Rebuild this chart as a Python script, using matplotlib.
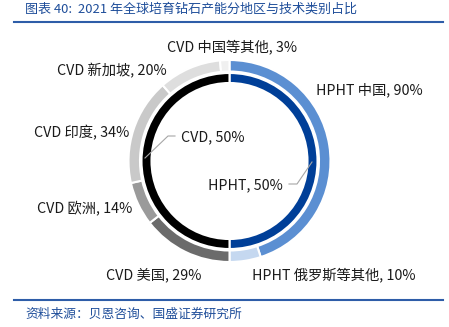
import matplotlib
matplotlib.use('Agg')
import matplotlib.pyplot as plt

plt.rcParams['font.family'] = ['Noto Sans CJK SC', 'DejaVu Sans']

# data
inner_labels = ['HPHT', 'CVD']
inner_values = [50, 50]
outer_labels = ['HPHT 中国', 'HPHT 俄罗斯等其他', 'CVD 美国', 'CVD 欧洲',
                'CVD 印度', 'CVD 新加坡', 'CVD 中国等其他']
outer_group = [0, 0, 1, 1, 1, 1, 1]
outer_pcts = [90, 10, 29, 14, 34, 20, 3]

inner_colors = ['#003f98', '#000000']
outer_colors = ['#5b8fd2', '#c5d8f0', '#6b6b6b', '#9a9a9a', '#c9c9c9', '#dedede', '#f0f0f0']

W, H = 449, 327
fig = plt.figure(figsize=(W / 100, H / 100), dpi=100)
ax = fig.add_axes([0, 0, 1, 1])

cx, cy = 229.5, H - 161
outer_sizes = [inner_values[g] * p / 100 for g, p in zip(outer_group, outer_pcts)]

ax.pie(outer_sizes, colors=outer_colors, radius=101, center=(cx, cy),
       startangle=90, counterclock=False, frame=True,
       wedgeprops=dict(width=11.5, edgecolor='white', linewidth=1.5))
ax.pie(inner_values, colors=inner_colors, radius=88, center=(cx, cy),
       startangle=90, counterclock=False, frame=True,
       wedgeprops=dict(width=10, edgecolor='white', linewidth=1.5))
ax.set_xlim(0, W)
ax.set_ylim(0, H)
ax.set_aspect('equal')
ax.axis('off')

fs = 10.3
def lab(x, y, s, ha='center'):
    ax.text(x, H - y, s, ha=ha, va='center', fontsize=fs, color='#1a1a1a')

# outer labels
outer_pos = [(369, 90), (334, 275), (154, 275), (85, 209), (82, 133), (112, 71), (232, 47)]
for (x, y), name, p in zip(outer_pos, outer_labels, outer_pcts):
    lab(x, y, f'{name}, {p}%')

# inner labels with leader lines
lab(213, 137, f'{inner_labels[1]}, {inner_values[1]}%')
lab(245, 185, f'{inner_labels[0]}, {inner_values[0]}%')
ax.plot([145, 168, 175], [H - 158, H - 136, H - 136], color='#a6a6a6', lw=0.8)
ax.plot([312, 297, 289], [H - 162, H - 184, H - 184], color='#a6a6a6', lw=0.8)

# title and source
blue = '#1f4e9a'
ax.text(25, H - 9, '图表 40:  2021 年全球培育钻石产能分地区与技术类别占比',
        fontsize=9.4, color=blue, style='italic', va='center', ha='left')
ax.plot([14, 443], [H - 22, H - 22], color='#2e5da8', lw=1.5)
ax.plot([14, 443], [H - 300, H - 300], color='#2e5da8', lw=1.5)
ax.text(25, H - 314, '资料来源：贝恩咨询、国盛证券研究所',
        fontsize=9.2, color=blue, style='italic', va='center', ha='left')

fig.savefig('out.png', dpi=100)
